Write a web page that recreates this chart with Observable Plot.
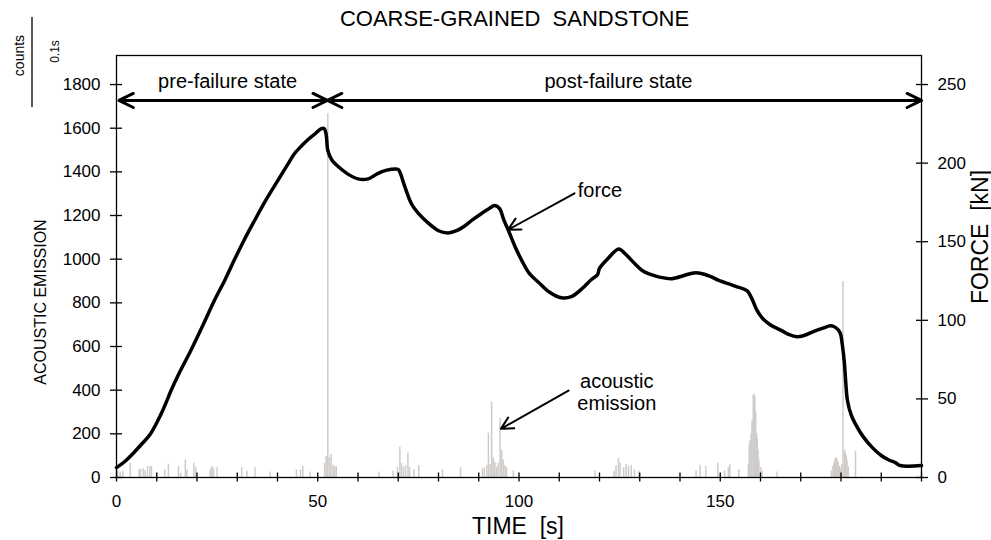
<!DOCTYPE html>
<html><head><meta charset="utf-8">
<script src="https://cdn.jsdelivr.net/npm/d3@7"></script>
<script src="https://cdn.jsdelivr.net/npm/@observablehq/plot@0.6"></script>
<style>body{margin:0;background:#fff;} #chart svg{display:block;}</style>
</head><body><div id="chart"></div>
<script>
// ---- data ----
const title = "COARSE-GRAINED\u00a0 SANDSTONE";
const xLabel = "TIME\u00a0 [s]";
const yLabel = "ACOUSTIC EMISSION";
const y2Label = "FORCE\u00a0 [kN]";
const unitTop = "counts";
const unitBottom = "0.1s";

const forceTime = [0,2,4,6,8.5,11,12.7,13.5,15.5,18.5,21.5,24.2,27,29.2,31.5,34.2,37,40.1,42.5,44.2,46,47.6,49.5,50.9,51.6,52.1,52.5,53.5,55,57.5,60,62.5,64,65.8,68,70,70.6,71.5,73.3,75,77.4,80,82.4,84.5,86.5,88.5,90.7,92.5,94,95.2,96.2,97.4,99,100.7,102.5,104.9,107.5,110.6,113,115.6,118,119.5,120,122,124.8,126.5,128.8,131,133.8,136,138,141,143,145,147.5,149.5,151.2,154,156.7,158,159,160.4,162.5,165.4,167,169.1,171,173.6,175.5,177.4,178.6,179.8,180.3,180.8,181.2,181.6,182.5,183.6,185.5,187.8,190,192,193.5,194.7,200];
const forceKN = [6.3,10,15,20.5,28,40,50,55,66,81,97,112,126,138,150,163,176,189,199,206,211,215,219,222,222,218,208,202,198,193,190,190,192,194.5,196,196,193,186,174,168,162,157,155.6,157,160,164,168,171,173,171,164,157,147,138,130,124,118,114.3,115,120,126,129,133,139,145.4,142,136,131,128.3,127,126.5,128.5,130,130,128,125.5,124,121.5,118.7,113,107,101.6,97,93.3,91,89.5,90.5,93.3,95,96.5,95.5,92,85,74,60,49,40,34,26,19,14,11,9.5,7.6,7.6];

const aeTime = [0.25,0.9,1.6,3.4,5.6,6.0,6.7,7.1,7.7,8.3,8.7,10.0,12.0,12.9,15.4,16.0,17.1,17.5,19.2,19.7,23.3,23.7,24.1,25.0,31.1,32.4,34.4,38.2,44.7,45.7,46.3,48.1,51.7,52.1,52.5,52.9,53.3,53.8,54.2,54.6,65.2,68.7,69.8,70.4,70.8,71.3,71.8,72.4,72.8,73.9,75.1,81.0,85.5,90.9,91.4,92.0,92.4,92.8,93.2,93.6,94.0,94.4,94.8,95.3,95.7,96.1,96.5,96.9,98.6,118.9,123.6,124.1,124.7,125.1,126.0,126.6,127.2,127.9,128.7,129.7,144.0,145.0,146.4,149.4,151.1,152.0,152.4,154.6,157.0,157.2,157.4,157.7,157.9,158.2,158.4,158.6,158.8,159.0,159.2,159.4,159.6,160.0,160.4,164.1,177.6,178.0,178.2,178.4,178.6,178.8,179.1,179.3,179.6,179.9,180.2,180.5,180.9,181.1,181.3,181.5,181.8,183.6];
const aeCounts = [35,25,30,65,35,38,40,30,50,50,50,20,35,60,50,20,81,35,65,47,38,50,43,45,45,30,45,25,35,35,50,25,65,96,1667,90,105,55,50,50,25,30,47,139,65,47,55,111,45,35,55,35,45,40,45,55,203,60,345,90,70,45,65,270,125,80,55,45,30,30,30,55,87,65,45,60,50,55,35,30,30,55,50,65,30,45,60,35,60,147,170,200,260,376,380,370,300,200,180,125,80,45,30,25,30,50,60,75,87,90,80,70,50,40,60,898,125,110,100,80,50,120];

const xTicks = d3.range(0, 201, 10);
const xTickLabels = [0, 50, 100, 150];
const yTicks = d3.range(0, 1801, 200);
const forceTicks = [0, 50, 100, 150, 200, 250];

const stateLabels = ["pre-failure state", "post-failure state"];
const stateLabelTime = [27.6, 124.7];
const stateLabelLevel = 1814;
const stateArrowLevel = 1727;
const stateBounds = [0.6, 52.4, 200];

const calloutText = ["force", "acoustic\nemission"];
const calloutTime = [114.6, 124.3];
const calloutLevel = [1313, 392];
const calloutArrowFrom = [[113.8, 1302], [112.3, 398]];
const calloutArrowTo = [[97.3, 1135], [95.5, 223]];

// ---- build ----
const k = 1800 / 250; // counts per kN on the shared vertical scale
const force = forceTime.map((t, i) => ({t, f: forceKN[i]}));
const ae = aeTime.map((t, i) => ({t, c: aeCounts[i]}));
const states = stateLabels.map((s, i) => ({s, t: stateLabelTime[i], y: stateLabelLevel}));
const stateArrows = [
  {x1: (stateBounds[0] + stateBounds[1]) / 2, x2: stateBounds[0]},
  {x1: (stateBounds[0] + stateBounds[1]) / 2, x2: stateBounds[1]},
  {x1: (stateBounds[1] + stateBounds[2]) / 2, x2: stateBounds[1]},
  {x1: (stateBounds[1] + stateBounds[2]) / 2, x2: stateBounds[2]}
];
const callouts = calloutText.map((s, i) => ({s, t: calloutTime[i], y: calloutLevel[i]}));
const calloutArrows = calloutArrowFrom.map((a, i) => ({x1: a[0], y1: a[1], x2: calloutArrowTo[i][0], y2: calloutArrowTo[i][1]}));

const font = "'Liberation Sans', Arial, Helvetica, sans-serif";
const centered = {textAnchor: "middle", lineAnchor: "middle", fill: "#000"};

const unitLine = (index, scales, values, dims) => {
  const g = d3.create("svg:g");
  g.append("line")
    .attr("x1", dims.marginLeft - 84).attr("x2", dims.marginLeft - 84)
    .attr("y1", dims.marginTop - 38).attr("y2", dims.marginTop + 52)
    .attr("stroke", "#000").attr("stroke-width", 1.3);
  return g.node();
};

const chart = Plot.plot({
  width: 991,
  height: 540,
  marginLeft: 116,
  marginRight: 70,
  marginTop: 55,
  marginBottom: 63,
  style: {fontFamily: font, color: "#000", background: "#fff", overflow: "visible"},
  x: {domain: [0, 200]},
  y: {domain: [0, 1933]},
  marks: [
    Plot.ruleX(ae, {x: "t", y1: 0, y2: "c", stroke: "#cfcbc8", strokeWidth: 1.5}),
    Plot.line(force, {x: "t", y: d => d.f * k, stroke: "#000", strokeWidth: 3.5, strokeLinejoin: "round", curve: "catmull-rom"}),
    Plot.frame({stroke: "#000", strokeWidth: 1.3}),
    Plot.axisY({ticks: yTicks, tickFormat: d3.format("d"), tickSize: 12, dx: 6, tickPadding: 10, fontSize: 17, label: null, strokeWidth: 1.3}),
    Plot.axisY({anchor: "right", ticks: forceTicks.map(v => v * k), tickFormat: v => String(Math.round(v / k)), tickSize: 12, dx: -6, tickPadding: 10, fontSize: 17, label: null, strokeWidth: 1.3}),
    Plot.axisX({ticks: xTicks, tickFormat: d => xTickLabels.includes(d) ? String(d) : "", tickSize: 9, dy: -4.5, tickPadding: 13, fontSize: 17, label: null, strokeWidth: 1.3}),
    Plot.arrow(stateArrows, {x1: "x1", x2: "x2", y1: stateArrowLevel, y2: stateArrowLevel, stroke: "#000", strokeWidth: 3, headLength: 8, headAngle: 52}),
    Plot.text(states, {x: "t", y: "y", text: "s", fontSize: 20, ...centered}),
    Plot.arrow(calloutArrows, {x1: "x1", y1: "y1", x2: "x2", y2: "y2", stroke: "#000", strokeWidth: 2, headLength: 10, headAngle: 55}),
    Plot.text(callouts.slice(0, 1), {x: "t", y: "y", text: "s", fontSize: 20, ...centered, textAnchor: "start"}),
    Plot.text(callouts.slice(1), {x: "t", y: "y", text: "s", fontSize: 20, lineHeight: 1.1, ...centered}),
    Plot.text([title], {frameAnchor: "top", dx: -4.5, dy: -37, fontSize: 22, ...centered}),
    Plot.text([xLabel], {frameAnchor: "bottom", dx: -1, dy: 49.5, fontSize: 23, ...centered}),
    Plot.text([yLabel], {frameAnchor: "left", dx: -76, dy: 35.5, rotate: -90, fontSize: 16, ...centered}),
    Plot.text([y2Label], {frameAnchor: "right", dx: 59, dy: -29.5, rotate: -90, fontSize: 23, ...centered}),
    Plot.text([unitTop], {frameAnchor: "top-left", dx: -97, dy: 0, rotate: -90, fontSize: 14, ...centered}),
    Plot.text([unitBottom], {frameAnchor: "top-left", dx: -61, dy: -4, rotate: -90, fontSize: 12, ...centered}),
    unitLine
  ]
});
document.getElementById("chart").appendChild(chart);
</script>
</body></html>
